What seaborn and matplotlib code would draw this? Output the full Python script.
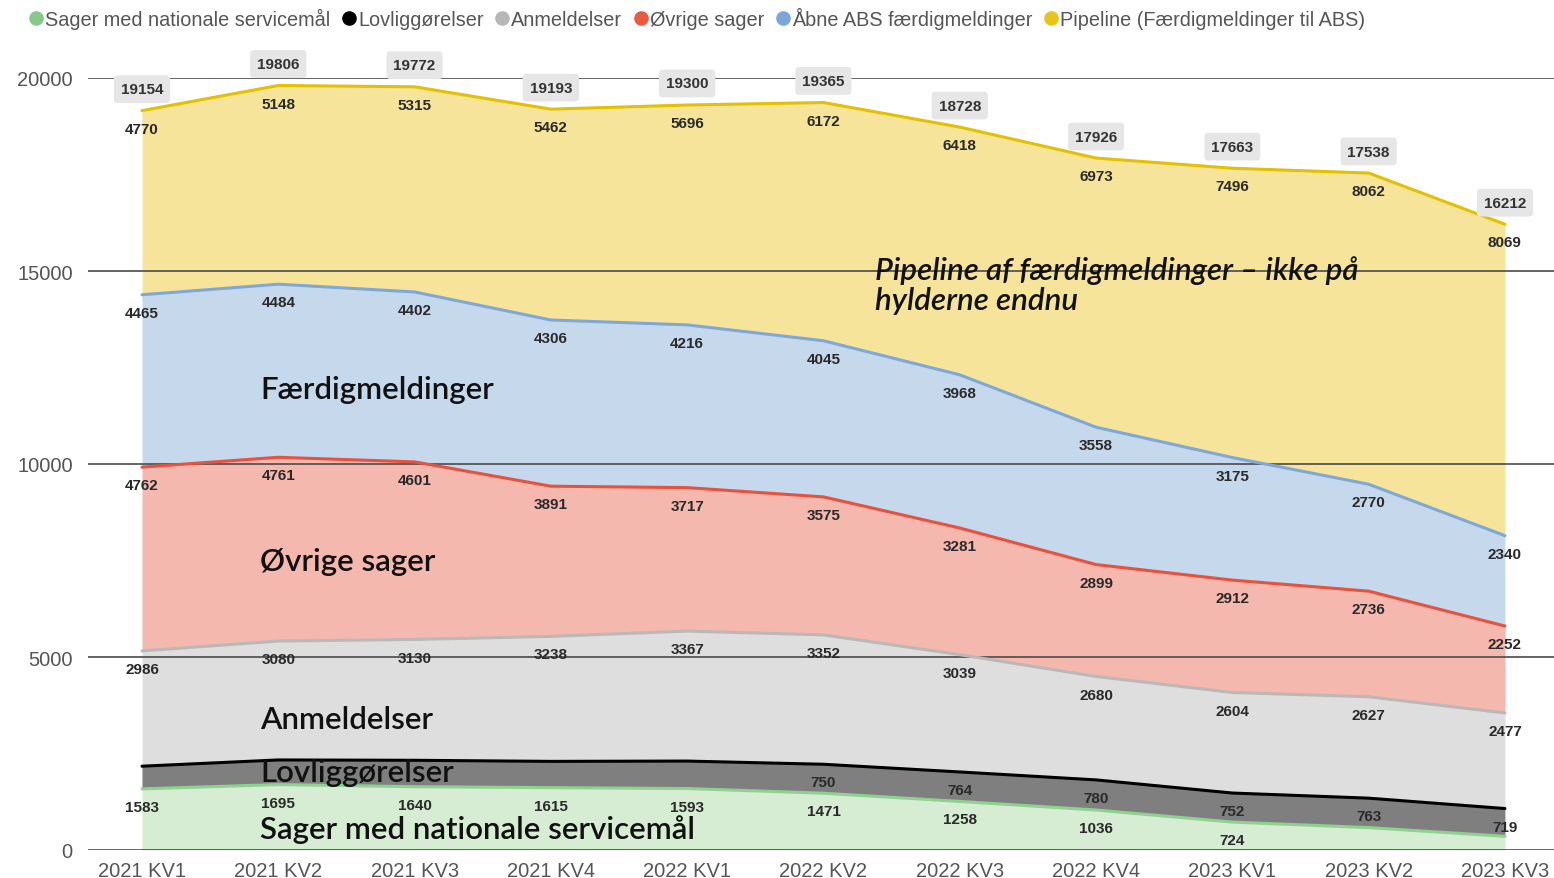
import numpy as np
import pandas as pd
import matplotlib
matplotlib.use("Agg")
import matplotlib.pyplot as plt
import seaborn as sns
from matplotlib.lines import Line2D

quarters = ["2021 KV1", "2021 KV2", "2021 KV3", "2021 KV4", "2022 KV1", "2022 KV2",
            "2022 KV3", "2022 KV4", "2023 KV1", "2023 KV2", "2023 KV3"]

series_names = ["Sager med nationale servicemål", "Lovliggørelser", "Anmeldelser",
                "Øvrige sager", "Åbne ABS færdigmeldinger", "Pipeline (Færdigmeldinger til ABS)"]

servicemaal = [1583, 1695, 1640, 1615, 1593, 1471, 1258, 1036, 724, 580, 355]
lovliggoerelser = [588, 638, 684, 681, 711, 750, 764, 780, 752, 763, 719]
anmeldelser = [2986, 3080, 3130, 3238, 3367, 3352, 3039, 2680, 2604, 2627, 2477]
oevrige = [4762, 4761, 4601, 3891, 3717, 3575, 3281, 2899, 2912, 2736, 2252]
abs_faerdig = [4465, 4484, 4402, 4306, 4216, 4045, 3968, 3558, 3175, 2770, 2340]
pipeline = [4770, 5148, 5315, 5462, 5696, 6172, 6418, 6973, 7496, 8062, 8069]
totals = [19154, 19806, 19772, 19193, 19300, 19365, 18728, 17926, 17663, 17538, 16212]

# which value labels are shown in the original (some are hidden because of overlap)
show_servicemaal = [1, 1, 1, 1, 1, 1, 1, 1, 1, 0, 0]
show_lovlig = [0, 0, 0, 0, 0, 1, 1, 1, 1, 1, 1]

line_colors = ["#8fd18f", "#000000", "#b9b9b9", "#e8513d", "#7ea8d8", "#e2c100"]
fill_colors = ["#d6ecd3", "#7f7f7f", "#dedede", "#f4b8ae", "#c6d9ec", "#f6e49b"]
legend_colors = ["#86c98a", "#000000", "#b7b7b7", "#ea5a3f", "#7aa6da", "#e8c31a"]

values = [servicemaal, lovliggoerelser, anmeldelser, oevrige, abs_faerdig, pipeline]
shows = [show_servicemaal, show_lovlig, [1] * 11, [1] * 11, [1] * 11, [1] * 11]

x = np.arange(len(quarters))
cum = np.cumsum(np.array(values), axis=0)

rows = []
for i, name in enumerate(series_names):
    for j, q in enumerate(quarters):
        rows.append({"serie": name, "x": j, "top": cum[i, j], "value": values[i][j]})
df = pd.DataFrame(rows)

sns.set_style("white")
plt.rcParams["font.family"] = ["Liberation Sans", "DejaVu Sans"]

fig = plt.figure(figsize=(15.54, 8.79), dpi=100)
ax = fig.add_axes([88 / 1554, 1 - 851 / 879, 1 - 88 / 1554, (851 - 79) / 879])

bottom = np.zeros(len(x))
for i in range(len(series_names)):
    ax.fill_between(x, bottom, cum[i], color=fill_colors[i], lw=0, zorder=1)
    bottom = cum[i]

sns.lineplot(data=df, x="x", y="top", hue="serie", palette=line_colors,
             hue_order=series_names, linewidth=2.2, legend=False, ax=ax, zorder=3)

for yv in [0, 5000, 10000, 15000, 20000]:
    ax.axhline(yv, color="#4a4a4a", lw=1.2, zorder=2)

# value labels just below each series' top line
for i in range(len(series_names)):
    for j in range(len(x)):
        if shows[i][j]:
            ax.annotate(str(values[i][j]), (x[j], cum[i, j]), xytext=(0, -13),
                        textcoords="offset points", ha="center", va="center",
                        fontsize=11, fontweight="bold", color="#2a2a2a", zorder=5)

# totals in grey boxes
for j in range(len(x)):
    ax.annotate(str(totals[j]), (x[j], totals[j]), xytext=(0, 15.5),
                textcoords="offset points", ha="center", va="center",
                fontsize=11, fontweight="bold", color="#333333", zorder=6,
                annotation_clip=False,
                bbox=dict(boxstyle="round,pad=0.45,rounding_size=0.25", fc="#e6e6e6", ec="none"))

ax.set_xlim(-0.396, 10.36)
ax.set_ylim(0, 20000)
ax.set_yticks([0, 5000, 10000, 15000, 20000])
ax.set_yticklabels(["0", "5000", "10000", "15000", "20000"])
ax.set_xticks(x)
ax.set_xticklabels(quarters)
ax.tick_params(axis="both", length=0, labelsize=14.5, colors="#555555")
ax.tick_params(axis="x", pad=8)
ax.tick_params(axis="y", pad=11)
ax.set_xlabel("")
ax.set_ylabel("")
for s in ax.spines.values():
    s.set_visible(False)

big = dict(family=["Lato", "DejaVu Sans"], fontsize=22.5, fontweight="semibold",
           color="#111111", zorder=7)
ax.text(0.866, 11943, "Færdigmeldinger", va="center", ha="left", **big)
ax.text(0.866, 7487, "Øvrige sager", va="center", ha="left", **big)
ax.text(0.866, 3394, "Anmeldelser", va="center", ha="left", **big)
ax.text(0.866, 2020, "Lovliggørelser", va="center", ha="left", **big)
ax.text(0.866, 544, "Sager med nationale servicemål", va="center", ha="left", **big)
ax.text(5.38, 14650, "Pipeline af færdigmeldinger – ikke på\nhylderne endnu", va="center",
        ha="left", style="italic", linespacing=1.08, **big)

handles = [Line2D([], [], marker="o", ls="none", markersize=10.5, markerfacecolor=c,
                  markeredgecolor="none") for c in legend_colors]
fig.legend(handles, series_names, loc="upper left", bbox_to_anchor=(0.004, 1.011), ncol=6,
           frameon=False, fontsize=14.3, labelcolor="#555555", handletextpad=-0.15,
           columnspacing=0.35, handlelength=1.2)

fig.savefig("out.png", dpi=100)
